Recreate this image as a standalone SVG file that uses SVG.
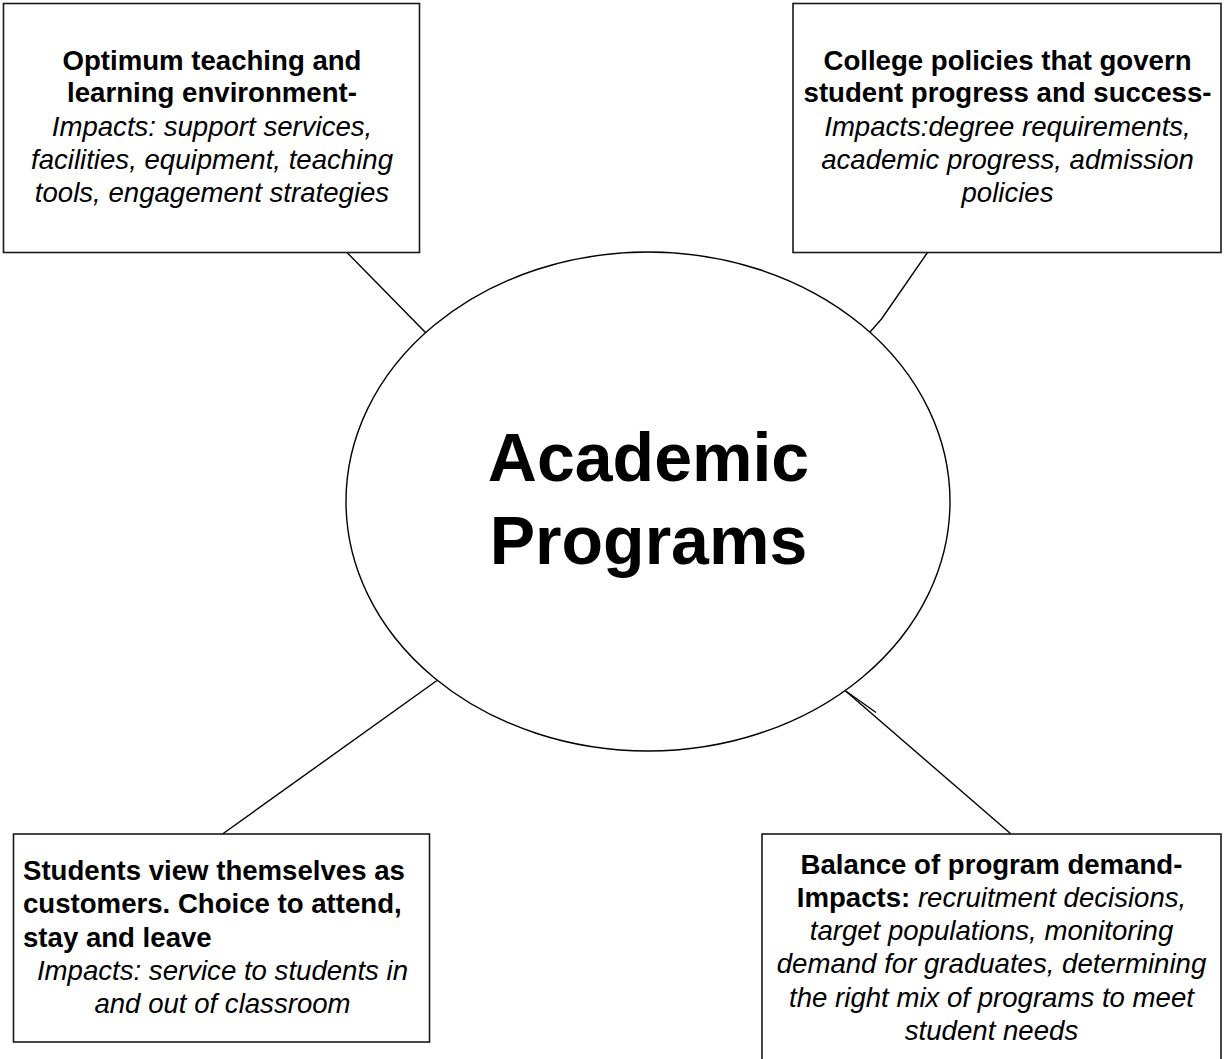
<svg xmlns="http://www.w3.org/2000/svg" width="1225" height="1059" viewBox="0 0 1225 1059">
  <style>
    .box { fill: #ffffff; stroke: #1a1a1a; stroke-width: 1.6; }
    .hub { fill: #ffffff; stroke: #000000; stroke-width: 1.4; }
    .link { fill: none; stroke: #000000; stroke-width: 1.4; stroke-linejoin: round; }
    text { font-family: "Liberation Sans", Arial, sans-serif; fill: #000000; }
    .t { font-size: 27.6px; }
    .b { font-weight: bold; }
    .i { font-style: italic; }
    .mid { text-anchor: middle; }
    .hubtext { font-size: 68px; font-weight: bold; text-anchor: middle; }
  </style>
  <rect width="1225" height="1059" fill="#ffffff"/>

  <!-- connectors between the hub and the four boxes -->
  <g id="connectors">
    <line class="link" x1="347" y1="252.5" x2="426" y2="333"/>
    <polyline class="link" points="927.5,252.5 881.5,319 866.5,336"/>
    <line class="link" x1="222.5" y1="834" x2="437" y2="680.5"/>
    <line class="link" x1="845" y1="690.5" x2="1011" y2="834"/>
    <line class="link" x1="846.5" y1="691.5" x2="876" y2="712.5"/>
  </g>

  <!-- central hub -->
  <g id="hub">
    <ellipse class="hub" cx="648" cy="501.5" rx="302" ry="249.5"/>
    <text class="hubtext" x="648.5" y="481">Academic</text>
    <text class="hubtext" x="648.5" y="564">Programs</text>
  </g>

  <!-- top left -->
  <g id="environment">
    <rect class="box" x="3.5" y="3.5" width="416" height="249"/>
    <text class="t b mid" x="212" y="70">Optimum teaching and</text>
    <text class="t b mid" x="212" y="102">learning environment-</text>
    <text class="t i mid" x="212" y="136">Impacts: support services,</text>
    <text class="t i mid" x="212" y="168.5">facilities, equipment, teaching</text>
    <text class="t i mid" x="212" y="201.5">tools, engagement strategies</text>
  </g>

  <!-- top right -->
  <g id="policies">
    <rect class="box" x="793" y="3.5" width="428" height="249"/>
    <text class="t b mid" x="1007.5" y="70">College policies that govern</text>
    <text class="t b mid" x="1007.5" y="102">student progress and success-</text>
    <text class="t i mid" x="1007.5" y="136">Impacts:degree requirements,</text>
    <text class="t i mid" x="1007.5" y="168.5">academic progress, admission</text>
    <text class="t i mid" x="1007.5" y="201.5">policies</text>
  </g>

  <!-- bottom left -->
  <g id="customers">
    <rect class="box" x="13.5" y="834" width="416" height="208"/>
    <text class="t b" x="23" y="880">Students view themselves as</text>
    <text class="t b" x="23" y="913">customers. Choice to attend,</text>
    <text class="t b" x="23" y="946.5">stay and leave</text>
    <text class="t i mid" x="222.5" y="980">Impacts: service to students in</text>
    <text class="t i mid" x="222.5" y="1012.5">and out of classroom</text>
  </g>

  <!-- bottom right -->
  <g id="demand">
    <rect class="box" x="762" y="834" width="459" height="240"/>
    <text class="t b mid" x="991.5" y="873.5">Balance of program demand-</text>
    <text class="t mid" x="991.5" y="906.8"><tspan class="b">Impacts:</tspan><tspan class="i"> recruitment decisions,</tspan></text>
    <text class="t i mid" x="991.5" y="940">target populations, monitoring</text>
    <text class="t i mid" x="991.5" y="973.3">demand for graduates, determining</text>
    <text class="t i mid" x="991.5" y="1006.7">the right mix of programs to meet</text>
    <text class="t i mid" x="991.5" y="1039.5">student needs</text>
  </g>
</svg>
